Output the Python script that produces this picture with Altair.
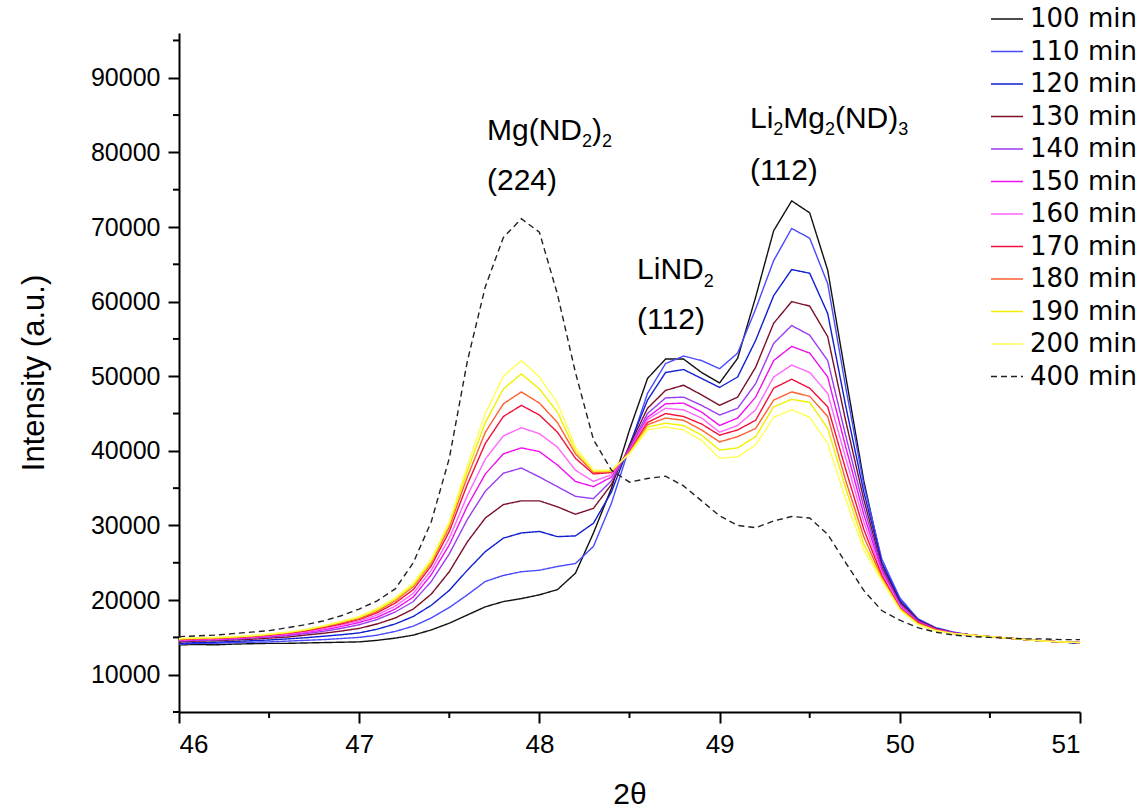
import altair as alt
import pandas as pd

# ---------------- data ----------------
two_theta = [46.0, 46.1, 46.2, 46.3, 46.4, 46.5, 46.6, 46.7, 46.8, 46.9,
             47.0, 47.1, 47.2, 47.3, 47.4, 47.5, 47.6, 47.7, 47.8, 47.9,
             48.0, 48.1, 48.2, 48.3, 48.4, 48.5, 48.6, 48.7, 48.8, 48.9,
             49.0, 49.1, 49.2, 49.3, 49.4, 49.5, 49.6, 49.7, 49.8, 49.9,
             50.0, 50.1, 50.2, 50.3, 50.4, 50.5, 50.6, 50.7, 50.8, 50.9, 51.0]

series_names = ["100 min", "110 min", "120 min", "130 min", "140 min", "150 min",
                "160 min", "170 min", "180 min", "190 min", "200 min", "400 min"]

series_colors = ["#111111", "#4a4aff", "#1020d0", "#7a1028", "#9a3cf0", "#ee10ee",
                 "#ff66ff", "#f0103c", "#ff6030", "#eef000", "#ffff55", "#222222"]

i100 = [14000, 14050, 14000, 14100, 14150, 14200, 14200, 14250, 14300, 14350,
        14400, 14600, 14900, 15300, 16000, 16900, 18000, 19100, 19800, 20200,
        20700, 21400, 23600, 29000, 35000, 42800, 49700, 52300, 52300, 50500,
        49100, 52400, 60600, 69500, 73500, 71900, 64200, 50000, 36000, 25000,
        19800, 17200, 16200, 15600, 15300, 15100, 14900, 14700, 14500, 14400, 14200]
i110 = [14100, 14200, 14200, 14300, 14350, 14400, 14500, 14600, 14700, 14850,
        15000, 15300, 15800, 16500, 17600, 19000, 20700, 22500, 23300, 23800,
        24000, 24500, 24900, 27200, 33000, 40500, 47700, 51700, 52700, 52100,
        51000, 53100, 59000, 65500, 69800, 68500, 62400, 48500, 35500, 25500,
        20300, 17500, 16300, 15700, 15300, 15100, 14900, 14700, 14500, 14400, 14200]
i120 = [14200, 14300, 14350, 14450, 14550, 14650, 14800, 14950, 15150, 15350,
        15600, 16100, 16800, 17800, 19300, 21300, 24000, 26500, 28300, 29000,
        29200, 28500, 28600, 30300, 34500, 40800, 46800, 50500, 50900, 49700,
        48500, 49900, 54800, 60800, 64300, 63800, 58400, 46000, 34500, 25000,
        20000, 17400, 16200, 15600, 15300, 15100, 14900, 14700, 14500, 14400, 14200]
i130 = [14400, 14500, 14550, 14650, 14750, 14900, 15050, 15300, 15550, 15850,
        16200, 16800, 17600, 18800, 20800, 23800, 27800, 31000, 32800, 33300,
        33300, 32500, 31500, 32300, 35500, 40700, 45700, 48100, 48800, 47500,
        46100, 47200, 51200, 57100, 60000, 59400, 55300, 44000, 33500, 24500,
        19700, 17300, 16200, 15600, 15300, 15100, 14900, 14700, 14500, 14400, 14300]
i140 = [14500, 14600, 14650, 14750, 14900, 15050, 15250, 15500, 15800, 16200,
        16700, 17400, 18400, 19800, 22500, 26200, 30800, 34600, 37000, 37700,
        36500, 35200, 33900, 33600, 36000, 40400, 45000, 47100, 47200, 46100,
        44800, 45700, 49000, 54400, 56800, 55500, 52100, 42000, 32500, 24200,
        19500, 17200, 16100, 15600, 15300, 15100, 14900, 14700, 14500, 14400, 14300]
i150 = [14600, 14700, 14750, 14850, 15000, 15150, 15350, 15650, 16000, 16450,
        17000, 17700, 18800, 20400, 23400, 27400, 32600, 36900, 39600, 40400,
        39900, 38100, 35900, 35200, 36500, 40200, 44500, 46300, 46400, 45200,
        43400, 44400, 47200, 52100, 54000, 53100, 49900, 40500, 31500, 23900,
        19300, 17100, 16100, 15600, 15300, 15100, 14900, 14700, 14500, 14400, 14300]
i160 = [14650, 14750, 14800, 14900, 15050, 15250, 15450, 15750, 16150, 16650,
        17200, 18000, 19200, 20900, 24000, 28300, 34000, 38900, 42000, 43100,
        42300, 40500, 37400, 35900, 36800, 40000, 44200, 45700, 45500, 44400,
        42500, 43400, 45500, 49900, 51500, 50500, 47700, 39000, 30500, 23600,
        19200, 17000, 16000, 15500, 15300, 15100, 14900, 14700, 14500, 14400, 14300]
i170 = [14700, 14800, 14850, 14950, 15100, 15300, 15550, 15850, 16300, 16800,
        17400, 18300, 19600, 21400, 24600, 29200, 35500, 41000, 44600, 46100,
        44800, 42500, 39000, 36900, 37100, 39900, 43800, 45000, 44600, 43600,
        42100, 42800, 44100, 48400, 49600, 48400, 45900, 37500, 29500, 23300,
        19000, 17000, 16000, 15500, 15300, 15100, 14900, 14700, 14500, 14400, 14300]
i180 = [14750, 14850, 14900, 15000, 15150, 15350, 15600, 15950, 16400, 16950,
        17500, 18500, 19900, 21800, 25000, 29800, 36500, 42500, 46300, 47900,
        46400, 43800, 39600, 37100, 37200, 39800, 43500, 44400, 44100, 42800,
        41200, 41900, 43000, 46800, 47900, 47300, 44600, 36000, 28500, 23000,
        18900, 16900, 16000, 15500, 15300, 15100, 14900, 14700, 14500, 14400, 14300]
i190 = [14800, 14900, 14950, 15050, 15200, 15400, 15650, 16000, 16500, 17050,
        17700, 18700, 20100, 22000, 25200, 30200, 37300, 43800, 48300, 50300,
        48300, 45200, 40000, 37300, 37300, 39700, 43200, 43700, 43400, 42100,
        40100, 40400, 41900, 45900, 46900, 46500, 43000, 35000, 27500, 22800,
        18800, 16800, 15900, 15500, 15300, 15100, 14900, 14700, 14500, 14400, 14300]
i200 = [14850, 14950, 15000, 15100, 15250, 15450, 15700, 16050, 16550, 17150,
        17800, 18900, 20300, 22300, 25500, 30500, 38000, 45000, 50000, 52100,
        49900, 46400, 40500, 37400, 37400, 39600, 42800, 43200, 42800, 41400,
        39000, 39200, 40800, 44500, 45500, 44500, 41000, 33500, 26700, 22600,
        18700, 16700, 15900, 15500, 15300, 15100, 14900, 14700, 14500, 14400, 14300]
i400 = [15100, 15200, 15300, 15500, 15700, 15900, 16300, 16700, 17200, 17900,
        18800, 19900, 21500, 25000, 30500, 39000, 52000, 62000, 68600, 71100,
        69300, 61000, 50500, 41500, 37400, 35800, 36300, 36600, 35300, 33300,
        31300, 30000, 29700, 30600, 31200, 31000, 28800, 25000, 21300, 18600,
        17300, 16300, 15700, 15300, 15100, 15000, 14900, 14800, 14800, 14700, 14700]

all_series = [i100, i110, i120, i130, i140, i150, i160, i170, i180, i190, i200, i400]

# axis tick values
x_major = [46, 47, 48, 49, 50, 51]
x_minor = [46.5, 47.5, 48.5, 49.5, 50.5]
y_major = [10000, 20000, 30000, 40000, 50000, 60000, 70000, 80000, 90000]
y_minor = [5000, 15000, 25000, 35000, 45000, 55000, 65000, 75000, 85000, 95000]

# annotation text pieces (x, y in data units; text)
ann_main_text = ["Mg(ND", ")", "(224)", "LiND", "(112)", "Li", "Mg", "(ND)", "(112)"]
ann_main_x = [47.709, 48.292, 47.709, 48.542, 48.542, 49.169, 49.353, 49.640, 49.169]
ann_main_y = [81700, 81700, 75000, 63000, 56300, 83300, 83300, 83300, 76350]
ann_sub_text = ["2", "2", "2", "2", "2", "3"]
ann_sub_x = [48.236, 48.347, 48.912, 49.298, 49.585, 49.992]
ann_sub_y = [80700, 80700, 61950, 82300, 82300, 82300]

# ---------------- tables ----------------
rows = []
for name, vals in zip(series_names, all_series):
    for t, v in zip(two_theta, vals):
        rows.append({"two_theta": t, "intensity": v, "series": name})
df = pd.DataFrame(rows)

ann_main = pd.DataFrame({"x": ann_main_x, "y": ann_main_y, "text": ann_main_text})
ann_sub = pd.DataFrame({"x": ann_sub_x, "y": ann_sub_y, "text": ann_sub_text})
xminor_df = pd.DataFrame({"v": x_minor})
yminor_df = pd.DataFrame({"v": y_minor})

dash_range = [[1, 0]] * 11 + [[6, 4]]

FONT = "Liberation Sans"

x_scale = alt.Scale(domain=[46, 51], nice=False, zero=False)
y_scale = alt.Scale(domain=[5000, 96000], nice=False, zero=False)

x_axis = alt.Axis(
    title="2θ", values=x_major, format="d",
    tickSize=11, grid=False, domainColor="black", domainWidth=2,
    tickColor="black", tickWidth=2,
    labelFont=FONT, labelFontSize=26, labelColor="black", labelPadding=8,
    titleFont=FONT, titleFontSize=30, titleFontWeight="normal", titleColor="black",
    titlePadding=22,
)
y_axis = alt.Axis(
    title="Intensity (a.u.)", values=y_major, format="d",
    tickSize=11, grid=False, domainColor="black", domainWidth=2,
    tickColor="black", tickWidth=2,
    labelFont=FONT, labelFontSize=25, labelColor="black", labelPadding=8,
    titleFont=FONT, titleFontSize=31, titleFontWeight="normal", titleColor="black",
    titlePadding=40,
)

legend = alt.Legend(
    title=None, orient="none", legendX=811, legendY=-31,
    symbolType="stroke", symbolSize=1024, symbolStrokeWidth=1.5,
    labelFont="DejaVu Sans", labelFontSize=26, labelColor="black", labelOffset=6,
    rowPadding=2.5, padding=0, labelLimit=400,
)

X = lambda f: alt.X(f, scale=x_scale, axis=x_axis)
Y = lambda f: alt.Y(f, scale=y_scale, axis=y_axis)

lines = alt.Chart(df).mark_line(strokeWidth=1.4).encode(
    x=X("two_theta:Q"),
    y=Y("intensity:Q"),
    color=alt.Color("series:N", scale=alt.Scale(domain=series_names, range=series_colors),
                    legend=legend, sort=series_names),
    strokeDash=alt.StrokeDash("series:N", scale=alt.Scale(domain=series_names, range=dash_range),
                              legend=legend, sort=series_names),
    order=alt.Order("two_theta:Q"),
)

# minor ticks (outward, short)
x_minor_ticks = alt.Chart(xminor_df).mark_rule(color="black", strokeWidth=2).encode(
    x=X("v:Q"), y=alt.value(679), y2=alt.value(685),
)
y_minor_ticks = alt.Chart(yminor_df).mark_rule(color="black", strokeWidth=2).encode(
    y=Y("v:Q"), x=alt.value(-6), x2=alt.value(0),
)

main_text = alt.Chart(ann_main).mark_text(
    font=FONT, fontSize=30, align="left", baseline="alphabetic", color="black"
).encode(x=X("x:Q"), y=Y("y:Q"), text="text:N")

sub_text = alt.Chart(ann_sub).mark_text(
    font=FONT, fontSize=18, align="left", baseline="alphabetic", color="black"
).encode(x=X("x:Q"), y=Y("y:Q"), text="text:N")

chart = alt.layer(lines, x_minor_ticks, y_minor_ticks, main_text, sub_text).properties(
    width=901, height=679,
    autosize=alt.AutoSizeParams(type="none"),
    padding={"left": 179, "top": 33, "right": 64, "bottom": 97},
    background="white",
).configure_view(stroke=None)

chart.save("out.html", embed_options={"renderer": "svg", "actions": False})
